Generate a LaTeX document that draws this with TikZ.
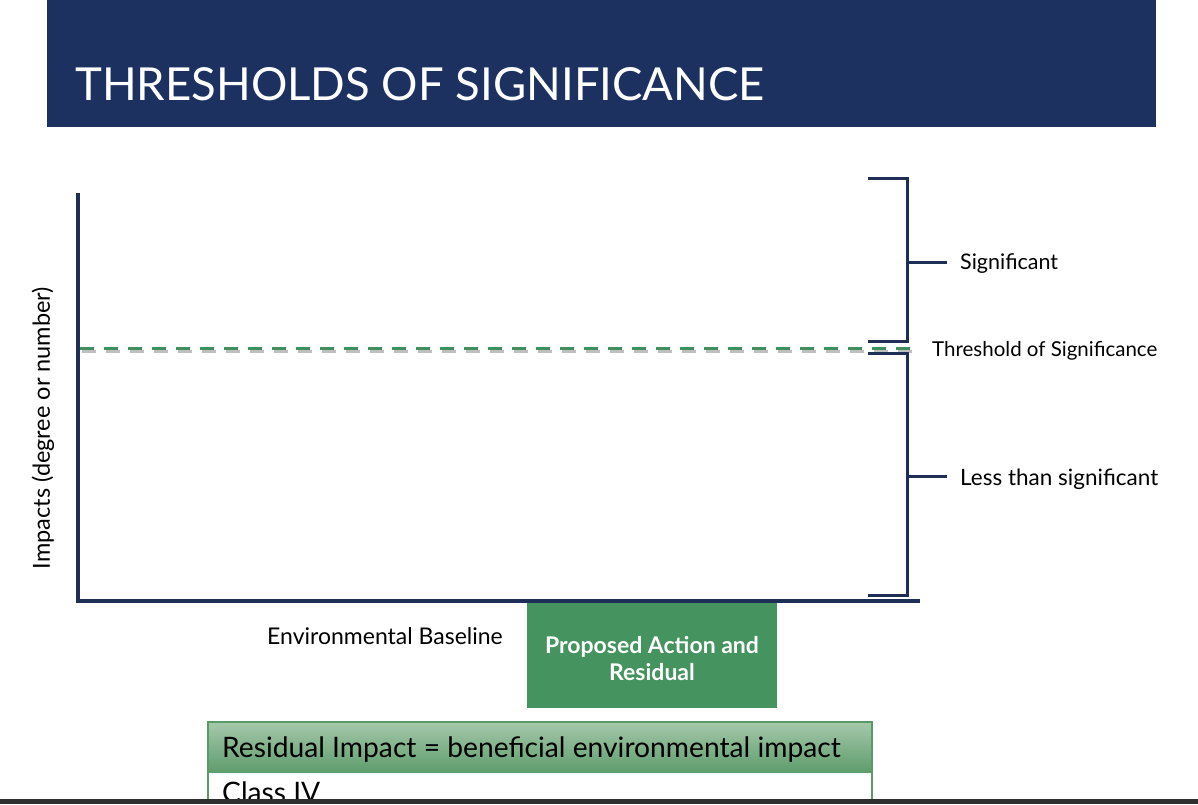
\documentclass[tikz,border=0pt]{standalone}
\usepackage{fontspec}
\setmainfont{Lato}
\definecolor{navy}{HTML}{1C3160}
\definecolor{axisc}{HTML}{1E2F57}
\definecolor{boxgreen}{HTML}{45935E}
\definecolor{dashgreen}{HTML}{3F8F5C}
\definecolor{tabtop}{HTML}{A5C8AB}
\definecolor{tabbot}{HTML}{5E9D6C}
\definecolor{tabline}{HTML}{5A9A68}
\definecolor{barc}{HTML}{2E2E2E}
\tikzset{
  axisline/.style={draw=axisc, line width=4pt},
  bracketline/.style={draw=axisc, line width=3pt},
  lbl/.style={anchor=west, inner sep=0pt, font=\fontsize{21.5}{21.5}\selectfont},
  thr/.style={dashgreen, line width=3pt, dash pattern=on 14pt off 10pt},
}
\begin{document}
\begin{tikzpicture}[x=1pt,y=-1pt]
\useasboundingbox (0,0) rectangle (1198,804);
% header
\fill[navy] (47,0) rectangle (1156,127);
\node[anchor=base west, inner sep=0pt, text=white, font=\fontsize{45.5}{45.5}\selectfont] (title) at (75,100) {THRESHOLDS OF SIGNIFICANCE};
% axes
\coordinate (ytop) at (78,193);
\coordinate (origin) at (78,601);
\coordinate (xend) at (920,601);
% threshold line with shadow
\coordinate (thrA) at (80,348);
\coordinate (thrB) at (918,348);
\draw[thr, draw=gray, opacity=0.5] ([shift={(2,3)}]thrA) -- ([shift={(2,3)}]thrB);
\draw[thr] (thrA) -- (thrB);
\draw[axisline, line join=miter] (ytop) -- (origin) -- (xend);
% upper bracket
\coordinate (ua) at (868,178);
\coordinate (ub) at (907,178);
\coordinate (uc) at (907,341);
\coordinate (ud) at (868,341);
\draw[bracketline] (ua) -- (ub) -- (uc) -- (ud);
\coordinate (utick) at (907,262);
\node[lbl] (sig) at (960,264) {Significant};
\draw[bracketline, shorten >=13pt] (utick) -- (utick -| sig.west);
% lower bracket
\coordinate (la) at (868,353);
\coordinate (lb) at (907,353);
\coordinate (lc) at (907,595);
\coordinate (ld) at (868,595);
\draw[bracketline] (la) -- (lb) -- (lc) -- (ld);
\coordinate (ltick) at (907,476);
\node[lbl, font=\fontsize{22.5}{22.5}\selectfont] (less) at (960,479) {Less than significant};
\draw[bracketline, shorten >=13pt] (ltick) -- (ltick -| less.west);
% threshold label
\node[lbl, font=\fontsize{20.5}{20.5}\selectfont] (thrlbl) at (932,351) {Threshold of Significance};
% y label
\node[rotate=90, inner sep=0pt, font=\fontsize{23.5}{23.5}\selectfont] (ylbl) at (43,428) {Impacts (degree or number)};
% x labels
\node[inner sep=0pt, font=\fontsize{23}{23}\selectfont] (base) at (385,636) {Environmental Baseline};
\node[fill=boxgreen, minimum width=250pt, minimum height=105pt, inner sep=0pt] (prop) at (652,655.5) {};
\node[inner sep=0pt, text=white, align=center, font=\bfseries\fontsize{23}{27}\selectfont] (proptext) at ([yshift=-3pt]prop.center) {Proposed Action and\\Residual};
% table
\shade[top color=tabtop, bottom color=tabbot] (208,722) rectangle (872,772);
\draw[tabline, line width=1.5pt] (208,804) -- (208,722) -- (872,722) -- (872,804);
\node[anchor=base west, inner sep=0pt, font=\fontsize{28.2}{28.2}\selectfont] (resid) at (222,757) {Residual Impact = beneficial environmental impact};
\node[anchor=base west, inner sep=0pt, font=\fontsize{28.2}{28.2}\selectfont] (cls) at (222,802) {Class IV};
% bottom bar
\fill[barc] (0,799) rectangle (1198,804);
\end{tikzpicture}
\end{document}
